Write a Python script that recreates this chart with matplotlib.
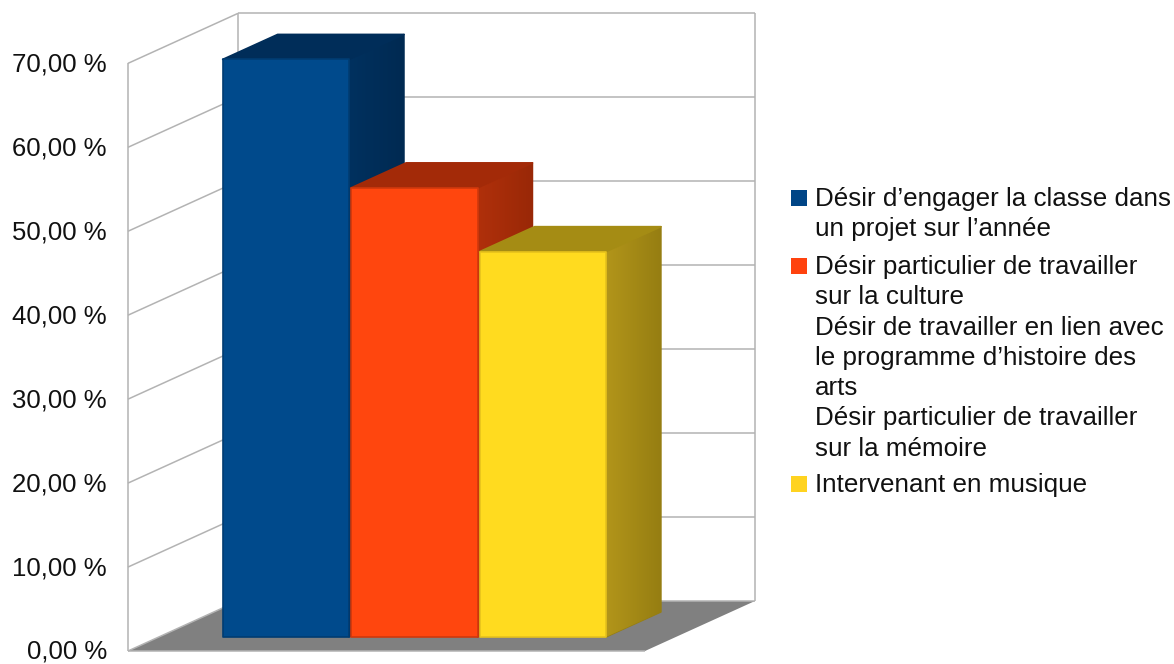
import numpy as np
import matplotlib
matplotlib.use("Agg")
import matplotlib.pyplot as plt
from matplotlib.patches import Polygon, Rectangle

series_names = [
    "Désir d’engager la classe dans\nun projet sur l’année",
    "Désir particulier de travailler\nsur la culture\nDésir de travailler en lien avec\nle programme d’histoire des\narts\nDésir particulier de travailler\nsur la mémoire",
    "Intervenant en musique",
]
series_values = [68.8, 53.5, 45.9]
y_ticks = [0, 10, 20, 30, 40, 50, 60, 70]
y_labels = ["0,00 %", "10,00 %", "20,00 %", "30,00 %", "40,00 %", "50,00 %", "60,00 %", "70,00 %"]

front_colors = ["#004a8c", "#ff460e", "#ffdb1f"]
legend_colors = ["#004586", "#ff420e", "#ffd320"]
edge_colors = ["#003c72", "#d0380c", "#e6c21c"]
top_colors = ["#002d59", "#a32a08", "#a58c14"]
side_left = ["#00315f", "#b0300b", "#b2951a"]
side_right = ["#002a52", "#992807", "#967e12"]

plt.rcParams["font.family"] = ["Liberation Sans", "DejaVu Sans"]

# pixel geometry of the fake 3d box
X0, Y0 = 128, 651
BOX_W = 517
DEPTH_X, DEPTH_Y = 110, 50
PX_PER_UNIT = 8.395
BAR_D0, BAR_D1 = 0.28, 0.78
BAR_W = 0.2485
BAR_START = 0.1215
BAR_INSET = 0.002
WALL = "#b3b3b3"


def project(x, v, d):
    return (X0 + x * BOX_W + d * DEPTH_X, Y0 - v * PX_PER_UNIT - d * DEPTH_Y)


def hex_rgb(c):
    return np.array(matplotlib.colors.to_rgb(c))


fig = plt.figure(figsize=(11.74, 6.64), dpi=100)
ax = fig.add_axes([0, 0, 1, 1])

vmax = y_ticks[-1]

# floor
ax.add_patch(Polygon([project(0, 0, 0), project(1, 0, 0), project(1, 0, 1), project(0, 0, 1)],
                     closed=True, facecolor="#808080", edgecolor="none", zorder=1))
line_pairs = [
    (project(0, 0, 0), project(0, vmax, 0)),
    (project(0, 0, 1), project(0, vmax, 1)),
    (project(1, 0, 1), project(1, vmax, 1)),
    (project(0, 0, 0), project(1, 0, 0)),
]
for tick in y_ticks:
    line_pairs.append((project(0, tick, 0), project(0, tick, 1)))
    line_pairs.append((project(0, tick, 1), project(1, tick, 1)))
for a, b in line_pairs:
    ax.plot([a[0], b[0]], [a[1], b[1]], color=WALL, lw=1.1, zorder=2, solid_capstyle="butt")

for tick, label in zip(y_ticks, y_labels):
    x, y = project(0, tick, 0)
    ax.text(x - 21, y + 1, label, ha="right", va="center", fontsize=18.5, color="#111111", zorder=3)

# bars, back faces first so the next bar overlaps the previous side
for i, value in enumerate(series_values):
    x0 = BAR_START + i * BAR_W + BAR_INSET
    x1 = BAR_START + (i + 1) * BAR_W - BAR_INSET
    z = 4 + i

    side_pts = [project(x1, 0, BAR_D0), project(x1, 0, BAR_D1),
                project(x1, value, BAR_D1), project(x1, value, BAR_D0)]
    side_patch = Polygon(side_pts, closed=True, facecolor="none",
                         edgecolor=side_right[i], lw=1.0, joinstyle="round", zorder=z)
    ax.add_patch(side_patch)
    grad = np.linspace(hex_rgb(side_left[i]), hex_rgb(side_right[i]), 64)[np.newaxis, :, :]
    xs = [p[0] for p in side_pts]
    ys = [p[1] for p in side_pts]
    img = ax.imshow(grad, extent=(min(xs), max(xs), max(ys), min(ys)), aspect="auto",
                    interpolation="bilinear", zorder=z)
    img.set_clip_path(side_patch)

    ax.add_patch(Polygon([project(x0, value, BAR_D0), project(x1, value, BAR_D0),
                          project(x1, value, BAR_D1), project(x0, value, BAR_D1)],
                         closed=True, facecolor=top_colors[i], edgecolor=top_colors[i],
                         lw=1.2, joinstyle="round", zorder=z + 0.1))
    ax.add_patch(Polygon([project(x0, 0, BAR_D0), project(x1, 0, BAR_D0),
                          project(x1, value, BAR_D0), project(x0, value, BAR_D0)],
                         closed=True, facecolor=front_colors[i], edgecolor=edge_colors[i],
                         lw=1.2, joinstyle="round", zorder=z + 0.5))

# legend, one text block per series
line_h = 30
y = 187
for i, name in enumerate(series_names):
    n_lines = name.count("\n") + 1
    ax.add_patch(Rectangle((791, y + 3), 16, 16, facecolor=legend_colors[i], edgecolor="none", zorder=10))
    ax.text(815, y, name, ha="left", va="top", fontsize=18.7, linespacing=1.33, color="#111111", zorder=10)
    y += n_lines * line_h + 8

ax.set_xlim(0, 1174)
ax.set_ylim(664, 0)
ax.axis("off")

fig.savefig("out.png", dpi=100)
